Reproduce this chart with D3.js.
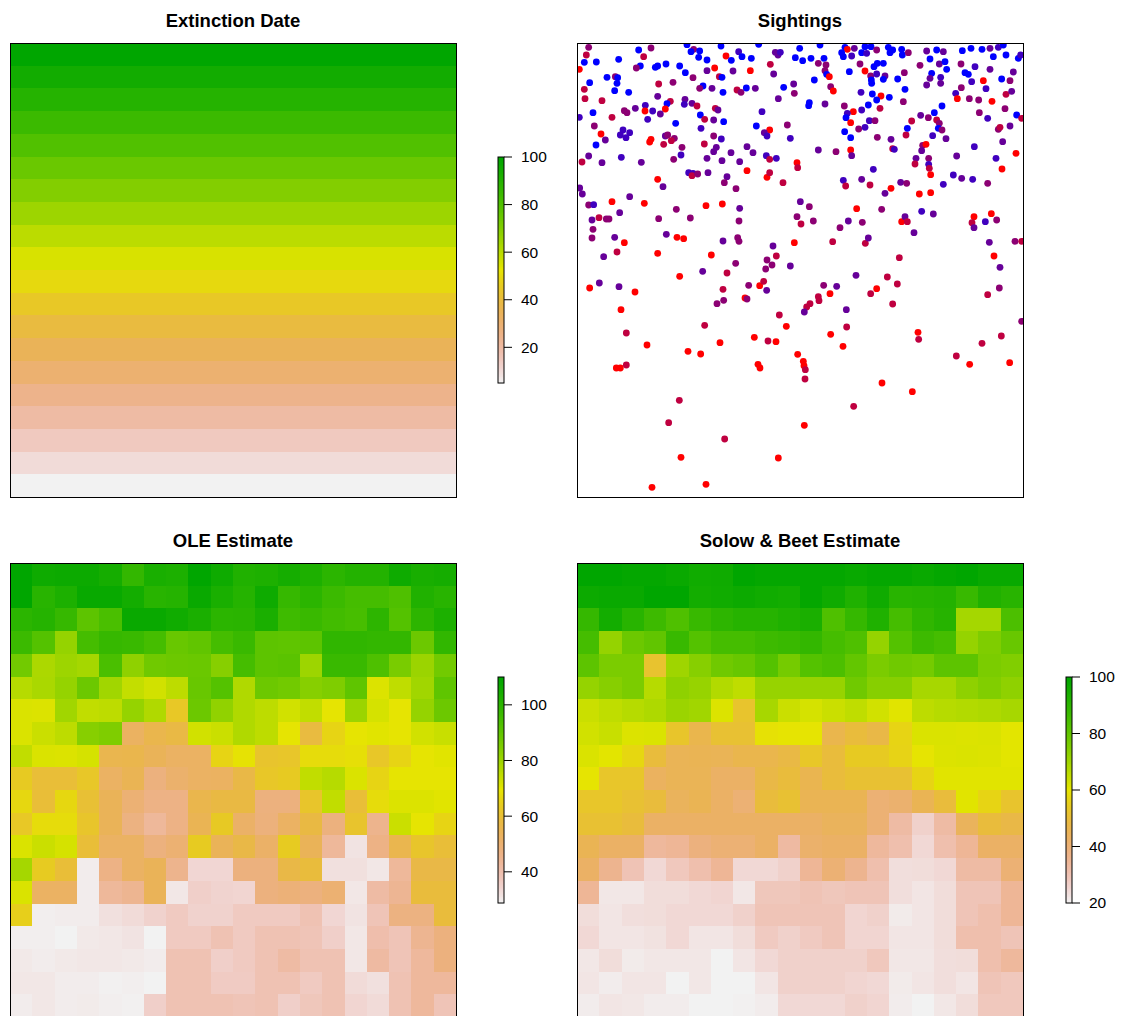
<!DOCTYPE html>
<html>
<head>
<meta charset="utf-8">
<script src="https://cdn.jsdelivr.net/npm/d3@7"></script>
<style>
body { margin: 0; background: #fff; }
text { font-family: "Liberation Sans", Arial, Helvetica, sans-serif; fill: #000; }
</style>
</head>
<body>
<script>
const titles = ['Extinction Date', 'Sightings', 'OLE Estimate', 'Solow & Beet Estimate'];

// extinction date per row, top row first
const extinctionDate = [100, 95, 90, 85, 80, 75, 70, 65, 60, 55, 50, 45, 40, 35, 30, 25, 20, 15, 10, 5];
const extTicks = [20, 40, 60, 80, 100];

const ole = [
  [110,106.5,107,107,105,98.6,104,103.5,110,106.5,102.5,103,105,103,100.4,102,102,106.5,104.5,105],
  [110,100.9,103.5,107.8,107.8,105.5,100.9,101.5,107.6,104,101.5,106.5,97.9,100.4,97.2,95.3,95.3,93.3,102.5,100.9],
  [100.4,101.7,97.9,90.8,94.1,107.6,107.6,106,103.7,100.4,100.5,103.8,96.4,97.4,95.9,94.8,100,92.3,100,103.5],
  [97.2,92.3,81.6,95.3,97.9,97.4,95.3,88.7,90,95.3,97.4,90.8,90.3,90.8,99.4,99.4,98.6,98.6,88.2,98.9],
  [87.2,78,80.1,79,94.1,82.6,87.7,88.2,88.5,83.6,95.3,90.8,91.3,80.1,97.4,97.4,93.7,86,80.6,87.2],
  [76.4,78.4,81.6,88.2,79.6,74.5,72.7,75.5,88.9,92.3,77.5,88.2,87.2,83.6,85,90.5,70.9,75,79.6,90.3],
  [71.3,70.9,79.6,74.9,75.5,81.6,77.5,63,88.2,82.2,77.3,75.5,72.7,74.9,69.4,80.6,72,69.4,81.6,88.2],
  [71.3,73.6,75.5,83.8,85,53,56.4,57.5,72.7,73.6,77.5,75.5,69.4,58.5,66.2,69.4,70.3,69.4,72.7,74],
  [74.9,71.3,71,72,56,56.4,54.4,52.4,52.4,66.2,69,61.7,62.5,67.8,67.8,68.5,62.8,66.2,69.4,70.5],
  [63.7,59.8,60,62.7,52.4,55.2,48,51,52.4,53,57.2,62.7,63.7,74.9,76.4,71.3,66.2,69.4,69.4,69.4],
  [67,59.8,67,60.5,54.4,49.5,46.7,46.7,56.4,57.8,57.8,48,48,62,74.9,59.8,67.8,70.9,70.9,70.5],
  [63,67.8,67.8,62,54.4,47.5,43.4,46.7,55.2,63.5,52,48.5,52.4,57.8,48,61.7,45.5,73.6,69.4,66.2],
  [71.3,73.6,71.8,59.8,52.4,52.4,48,50,64,54.4,57.2,52,64,54.4,43.4,31.5,46.7,56,62,59.8],
  [79,64,59.8,30,46.7,52.4,54.4,45.5,34,34,48,48,57.2,59.3,32,32.3,30.8,43.4,57.2,57.2],
  [71.3,52.4,52.4,30,43.4,45,54.4,30.8,35.5,34.8,34.3,48,49,48,50,31,41.8,44.5,59.3,59.3],
  [65,29.5,30,30,32,33,35,37,35,35,37,37,37,39.3,34,31.5,38.5,47.5,47.5,59.3],
  [29.5,29.5,29,30.5,31,31.5,29,37,37,39.3,37,39.3,39.3,38.5,35.5,31,40.5,38.5,45,48],
  [30.5,30,30.5,31,31,30.5,29.8,39.3,39.3,35.5,37,39,41.8,39,39,31,42,38.5,43,48],
  [30.8,30.8,30,30,29.2,29.5,28.8,39.3,39.3,36.5,36.5,39.3,39,37,39.3,33,32.3,39,43,43],
  [30,30.8,29.8,30.3,29.5,29.2,35.5,39,39,39,38.5,39,35.5,38,39,34.5,33,39,43,38.5]
];
const oleTicks = [40, 60, 80, 100];

const solowBeet = [
  [100,100,99,99,97.6,96,96.5,100,99,99,99,99,98,99,99,97.6,99,100,98,98],
  [97,97.6,97.6,100,100,95.5,96,97,96,95.5,99,96.5,93,96.5,91,91.5,92,88,92.5,91],
  [88.5,95.5,91,87,83.5,88,90,91.5,91.5,93,94,83.5,88.5,93,85.5,89.5,91.5,69.5,69.5,84.3],
  [85.5,72,78.5,80.5,88,82.5,85.5,85.5,87,87.5,89,85.5,83.5,72,82.5,87,85.5,72,75.5,79],
  [81,76,76,52,70.5,74,78,79,82.5,77,82.5,84,80,76,78,77,81,81,76,75],
  [72,74,76,67,73,71.5,67.5,65.5,71.5,71.5,71.5,71.5,78,74,74,69,69,73,75,73],
  [64,65.5,67,68,71,70,61.5,52.4,69,64,62.5,64,65.5,63,61,66,67,67.5,68,69],
  [63,64.5,61.5,61.8,52.8,47,51.5,51.5,59.5,60,60,47,50,48,56.8,62,61.8,61.5,62,60.5],
  [61.8,60.5,57.5,50,45.5,46,45.5,47,47,48.5,53.5,50,54.4,54.4,56.5,60,61.5,61.8,61.5,60.5],
  [60,53,53,44,45.5,45.5,43,43.2,48,50,46.5,50,51.5,51.5,51.5,56.8,61,61,61,61],
  [53,53,51.5,50,44.5,46,43.2,40.4,50,51.5,46,46,46,40.4,41.5,46,50,61,56.8,52.4],
  [51.5,51.5,50,43.2,43.2,43.2,43.2,43.2,43.2,43.2,43.2,44.5,44.5,40.4,32.8,26.5,32.8,44.5,50,48],
  [46,43.2,43.2,34,34.8,39,40.4,40.4,43.2,33,42,43.2,43.2,34,31,25,31,35,43.2,43.2],
  [43,36,30,25,28.5,31,35,25,25,26.5,35,40.4,36,31,23.5,24,25,32.8,32.8,40.4],
  [35,22,22,24,24,25,25.5,22,29,29,30,29,29.5,29.5,23.5,22.5,24,29.5,29.5,35],
  [24,22.5,23.5,24,25,25,25,26.5,29.5,29.5,29.5,29.5,25.5,26.5,21.5,22.3,24,29.5,31,35],
  [25,22.5,22.5,23,25,22.5,22.3,24,28,26.5,28,29.5,25.5,25.5,22.5,22.3,24,31,31,29.5],
  [22,24,21.5,22,22,22,20.3,22.3,25,26.5,26.5,26.5,26.5,28.5,22,22,23.5,24,31,34],
  [22.3,21,22.3,22.3,20.3,22,20.3,20.3,22.5,26.5,26.5,26.5,25.5,25,21.5,22.3,23.5,22.5,29.5,28.5],
  [21,22.3,22,21,21,20.3,20,20.5,21,25,25,25,26.5,25.5,21,20,22,24,28.5,28.5]
];
const sbTicks = [20, 40, 60, 80, 100];

// sightings: [east, north, time] on a 1338 x 1362 extent, time 0 = red .. 1 = blue
const sightings = [
  [35,1349,.45],[28,1326,.25],[22,1304,1],[58,1305,1],[125,1313,1],[185,1341,1],[200,1321,.25],[222,1347,.45],[190,1293,1],[178,1287,.45],
  [235,1289,1],[242,1293,1],[267,1299,1],[308,1293,1],[330,1357,1],[350,1343,.45],[342,1336,1],[368,1338,1],[365,1319,1],[390,1311,1],
  [432,1353,1],[447,1323,0],[463,1310,1],[485,1336,.75],[495,1321,1],[523,1316,1],[545,1358,1],[580,1298,.25],[595,1334,.6],[603,1326,.6],
  [610,1334,.75],[655,1318,1],[668,1346,1],[7,1283,0],[413,1287,0],[468,1278,.6],[520,1279,0],[590,1269,.6],[325,1273,1],[390,1279,.6],
  [348,1258,.45],[427,1261,.25],[435,1259,1],[90,1259,1],[115,1261,.45],[122,1258,1],[120,1241,1],[38,1243,1],[245,1239,.25],[288,1244,.45],
  [378,1233,1],[368,1226,.45],[405,1226,.6],[438,1214,1],[480,1221,.25],[492,1214,.45],[508,1227,1],[535,1226,.6],[620,1229,1],[650,1239,.6],
  [652,1211,.45],[22,1223,.25],[113,1219,1],[155,1214,1],[24,1195,.25],[75,1189,.25],[242,1202,.6],[324,1193,.6],[280,1187,.25],[270,1180,1],
  [322,1178,.75],[345,1181,.6],[360,1173,.25],[205,1175,.75],[265,1164,0],[204,1158,0],[227,1158,.75],[250,1149,.6],[212,1133,.75],[142,1159,.45],
  [150,1153,.45],[175,1166,.6],[105,1139,.25],[48,1153,1],[7,1139,.75],[415,1166,.25],[423,1161,.6],[370,1146,1],[383,1133,.25],[410,1131,.6],
  [440,1126,1],[555,1156,.75],[604,1195,.6],[296,1121,1],[372,1106,.75],[538,1113,1],[578,1101,0],[562,1093,.6],[570,1083,.75],[631,1116,.45],
  [640,1076,.75],[52,1113,.45],[72,1089,0],[85,1071,.6],[138,1101,.75],[130,1086,.75],[147,1078,.75],[158,1093,.75],[222,1073,0],[218,1065,0],
  [260,1058,.25],[265,1083,.6],[272,1086,.45],[292,1076,.45],[283,1069,.25],[315,1049,.45],[312,1026,.75],[290,1013,.45],[410,1083,.45],[433,1074,.75],
  [382,1059,.25],[418,1049,.6],[410,1036,.6],[390,1016,.6],[435,1009,.6],[462,1033,.6],[488,1006,.6],[510,1051,.6],[528,1033,.6],[568,1024,.75],
  [578,1013,.25],[598,1016,.75],[660,1003,0],[662,988,.25],[57,1056,1],[35,1023,.6],[15,1005,.25],[75,1003,.6],[133,1019,.75],[193,1004,.6],
  [335,973,.75],[348,971,.75],[345,964,.25],[362,969,.45],[393,973,.6],[450,961,.6],[442,943,.45],[477,925,.45],[510,979,0],[570,959,0],
  [578,973,.25],[618,943,.25],[242,953,0],[258,931,.6],[8,927,.6],[16,909,.6],[158,901,.6],[105,886,0],[202,881,0],[35,876,.45],
  [50,877,.75],[670,886,.6],[298,863,.45],[387,874,0],[436,879,0],[488,866,.6],[128,853,.6],[66,838,.25],[88,834,.45],[96,834,.45],
  [45,831,.6],[245,835,.45],[340,837,.45],[486,828,.45],[660,841,.45],[672,819,.25],[48,803,.45],[268,788,.6],[300,779,0],[320,775,0],
  [45,777,.45],[113,779,.6],[142,763,0],[438,768,.6],[482,778,.45],[486,767,.45],[652,763,0],[588,753,.6],[120,735,.25],[242,731,0],
  [403,726,0],[598,723,.25],[80,721,.6],[476,701,.45],[570,711,.45],[585,696,.45],[640,693,.6],
  [729,1356,1],[804,1349,1],[811,1343,0],[832,1346,.6],[854,1333,1],[864,1351,1],[882,1351,1],[899,1341,.45],[869,1331,.75],[799,1321,1],
  [824,1323,.75],[794,1333,1],[934,1349,1],[939,1333,1],[947,1341,1],[974,1343,1],[976,1326,1],[994,1333,.45],[1049,1338,.6],[1079,1341,1],
  [1099,1336,.6],[1156,1339,1],[1182,1346,1],[1215,1343,1],[1239,1346,.6],[1264,1349,.75],[1279,1356,1],[1287,1326,1],[1249,1321,1],[1324,1316,1],
  [1331,1326,.75],[677,1309,1],[702,1316,1],[724,1301,.45],[741,1316,1],[747,1296,.45],[849,1299,.45],[891,1291,1],[901,1301,1],[919,1301,1],
  [1029,1295,.45],[1059,1314,1],[1087,1299,.6],[1104,1306,1],[1109,1283,1],[1152,1299,.45],[1194,1291,.75],[1239,1283,.6],[1309,1275,.6],[744,1279,.45],
  [749,1268,1],[757,1261,0],[817,1276,1],[864,1278,0],[881,1263,.45],[883,1251,1],[884,1241,1],[899,1269,.75],[924,1263,.6],[919,1253,1],
  [982,1273,.45],[962,1254,1],[1064,1271,1],[1059,1256,.6],[1091,1259,.75],[1049,1236,.6],[1091,1241,.6],[1164,1273,1],[1174,1268,1],[1184,1246,.75],
  [1219,1249,0],[1274,1254,1],[1299,1249,.45],[712,1251,1],[761,1231,.45],[769,1218,0],[852,1214,.75],[886,1209,1],[912,1203,0],[899,1191,1],
  [937,1199,1],[984,1223,1],[979,1186,.45],[1136,1211,.75],[1153,1228,.45],[1141,1195,0],[1177,1195,.45],[1205,1191,.45],[1227,1225,.75],[1245,1187,0],
  [1287,1208,.25],[1304,1217,.6],[697,1183,1],[695,1174,1],[744,1179,.6],[802,1173,.45],[874,1176,1],[854,1161,.75],[829,1156,0],[811,1151,.75],
  [807,1138,1],[909,1166,.25],[1095,1173,1],[1207,1153,.45],[1232,1136,.75],[1284,1165,.45],[1319,1146,1],[1334,1136,.25],[821,1123,0],[877,1129,.75],
  [894,1129,.45],[845,1104,.45],[864,1109,.75],[803,1096,1],[821,1078,1],[901,1079,.45],[987,1086,.25],[991,1106,1],[1004,1128,.25],[1031,1145,.6],
  [1054,1138,.45],[1072,1153,1],[1079,1131,.25],[1087,1121,.45],[1084,1106,1],[1095,1101,.45],[1067,1084,.75],[1107,1075,.6],[1264,1103,.45],[1269,1109,.25],
  [1299,1113,.6],[1277,1066,.6],[1192,1051,.75],[1317,1031,0],[1257,1016,.75],[1275,984,0],[724,1041,.6],[777,1036,.45],[821,1041,0],[824,1024,.6],
  [942,1073,.6],[947,1045,.25],[952,1043,.75],[1037,1055,.45],[1047,1058,0],[1034,1039,.6],[1017,1016,.6],[1014,999,.25],[1055,1016,.45],[1055,998,.75],
  [1057,986,.25],[1061,967,0],[1139,1023,.6],[889,983,.75],[799,950,.75],[806,933,.25],[854,953,.6],[879,936,.25],[942,926,0],[971,944,.6],
  [989,941,.45],[924,911,.6],[1027,909,0],[1061,913,0],[1099,938,.75],[1129,966,.75],[1154,956,.6],[1187,953,.75],[1232,941,.45],[697,871,.45],
  [709,828,.45],[839,865,0],[914,863,.45],[814,828,.6],[856,824,.45],[789,808,.45],[767,766,.25],[865,761,.25],[874,777,.6],[974,826,0],
  [984,841,.6],[991,826,.25],[1011,793,.6],[1034,857,.75],[1069,849,.6],[1191,841,0],[1185,823,.25],[1191,808,.6],[1225,826,.75],[1243,850,0],
  [1259,831,.45],[1237,764,.6],[1314,767,.45],[1334,767,.25],[967,718,.25],[1251,723,0],[1269,689,.6],
  [377,677,.6],[450,672,.25],[308,662,0],[566,684,.45],[38,627,0],[67,642,.6],[126,631,.6],[174,615,0],[438,623,.25],[420,580,.45],
  [440,590,.45],[515,635,.45],[548,634,0],[560,647,.25],[569,620,.6],[504,597,0],[510,594,.45],[132,562,0],[607,546,.25],[148,492,.25],
  [383,515,.25],[628,512,0],[210,456,0],[333,437,0],[371,429,0],[429,463,0],[532,479,0],[573,468,.25],[597,466,0],[662,428,0],
  [118,387,0],[130,387,0],[148,396,.25],[543,398,0],[549,387,0],[307,290,.25],[275,223,.25],[443,174,.25],[312,119,0],[604,117,0],
  [225,29,0],[387,38,0],
  [837,665,.6],[931,660,.25],[961,639,.25],[740,635,.45],[779,632,.6],[724,601,.25],[726,589,.25],[759,610,0],[881,610,.25],[899,625,0],
  [947,579,.25],[699,580,.25],[689,570,.25],[682,555,.6],[808,562,.6],[809,510,.25],[761,488,0],[798,452,0],[1232,607,.25],[1267,627,.45],
  [1334,527,.45],[1273,483,.25],[1215,461,.25],[1138,423,.25],[1178,398,0],[1298,403,0],[1023,494,0],[1025,473,.25],[679,407,0],[681,394,0],
  [685,382,.25],[684,354,.25],[915,342,0],[1006,316,0],[830,272,.25],[682,215,0]
];

const width = 1121;
const height = 1016;
const pw = 446, ph = 454;
const panels = [[10, 43], [577, 43], [10, 563], [577, 563]];

function hsv(h, s, v) {
  const i = Math.floor(h * 6 + 1e-9), f = h * 6 - i;
  const p = v * (1 - s), q = v * (1 - f * s), t = v * (1 - (1 - f) * s);
  const [r, g, b] = [[v, t, p], [q, v, p], [p, v, t], [p, q, v], [t, p, v], [v, p, q]][i % 6];
  return d3.rgb(r * 255, g * 255, b * 255).formatHex();
}

// R's terrain.colors(n)
function terrainColors(n) {
  const k = Math.floor(n / 2);
  const seq = (a, b, len) => d3.range(len).map(i => a + (b - a) * i / (len - 1));
  const cols = [];
  const h1 = seq(4/12, 2/12, k), v1 = seq(0.65, 0.9, k);
  for (let i = 0; i < k; i++) cols.push(hsv(h1[i], 1, v1[i]));
  const m = n - k + 1;
  const h2 = seq(2/12, 0, m), s2 = seq(1, 0, m), v2 = seq(0.9, 0.95, m);
  for (let i = 1; i < m; i++) cols.push(hsv(h2[i], s2[i], v2[i]));
  return cols;
}
const palette = terrainColors(255).reverse();
const colorFor = domain => v => palette[Math.max(0, Math.min(254, Math.floor((v - domain[0]) / (domain[1] - domain[0]) * 255)))];

const svg = d3
  .create('svg')
  .attr('width', width)
  .attr('height', height)
  .attr('viewBox', [0, 0, width, height]);

svg.append('rect').attr('width', width).attr('height', height).attr('fill', '#fff');

svg.append('defs').selectAll('clipPath')
  .data(panels)
  .join('clipPath')
  .attr('id', (d, i) => 'clip' + i)
  .append('rect')
  .attr('x', d => d[0]).attr('y', d => d[1])
  .attr('width', pw).attr('height', ph);

function drawGrid(i, grid, domain) {
  const [px, py] = panels[i];
  const nr = grid.length, nc = grid[0].length;
  const x = d3.scaleLinear().domain([0, nc]).range([px, px + pw]);
  const y = d3.scaleLinear().domain([0, nr]).range([py, py + ph]);
  const col = colorFor(domain);
  const cells = [];
  grid.forEach((row, r) => row.forEach((v, c) => cells.push({ r, c, v })));
  svg.append('g')
    .attr('clip-path', `url(#clip${i})`)
    .attr('shape-rendering', 'crispEdges')
    .selectAll('rect')
    .data(cells)
    .join('rect')
    .attr('x', d => x(d.c))
    .attr('y', d => y(d.r))
    .attr('width', d => x(d.c + 1) - x(d.c) + 0.5)
    .attr('height', d => y(d.r + 1) - y(d.r) + 0.5)
    .attr('fill', d => col(d.v));
}

function drawLegend(lx, ly, domain, ticks) {
  const bw = 6, bh = 226;
  const y = d3.scaleLinear().domain(domain).range([ly + bh, ly]);
  const g = svg.append('g');
  g.append('g')
    .attr('shape-rendering', 'crispEdges')
    .selectAll('rect')
    .data(palette)
    .join('rect')
    .attr('x', lx)
    .attr('y', (d, i) => ly + bh - (i + 1) * bh / 255)
    .attr('width', bw)
    .attr('height', bh / 255 + 0.6)
    .attr('fill', d => d);
  g.append('rect')
    .attr('x', lx).attr('y', ly).attr('width', bw).attr('height', bh)
    .attr('fill', 'none').attr('stroke', '#000').attr('stroke-width', 1);
  const t = g.selectAll('g.tick').data(ticks).join('g').attr('class', 'tick')
    .attr('transform', d => `translate(0,${y(d)})`);
  t.append('line')
    .attr('x1', lx + bw).attr('x2', lx + bw + 8)
    .attr('stroke', '#000');
  t.append('text')
    .attr('x', lx + bw + 17)
    .attr('dy', '0.35em')
    .attr('font-size', 15.5)
    .text(d => d);
}

// extinction date bands
const extDomain = d3.extent(extinctionDate);
const extCol = colorFor(extDomain);
const bandY = d3.scaleLinear().domain([0, extinctionDate.length]).range([panels[0][1], panels[0][1] + ph]);
svg.append('g')
  .attr('shape-rendering', 'crispEdges')
  .selectAll('rect')
  .data(extinctionDate)
  .join('rect')
  .attr('x', panels[0][0])
  .attr('y', (d, i) => bandY(i))
  .attr('width', pw)
  .attr('height', (d, i) => bandY(i + 1) - bandY(i) + 0.5)
  .attr('fill', d => extCol(d));
drawLegend(498, 157, extDomain, extTicks);

// sightings
const sx = d3.scaleLinear().domain([0, 1338]).range([panels[1][0], panels[1][0] + pw]);
const sy = d3.scaleLinear().domain([0, 1362]).range([panels[1][1] + ph, panels[1][1]]);
const tone = d3.scaleLinear().domain([0, 1]).range(['red', 'blue']);
svg.append('g')
  .attr('clip-path', 'url(#clip1)')
  .selectAll('circle')
  .data(sightings)
  .join('circle')
  .attr('cx', d => sx(d[0]))
  .attr('cy', d => sy(d[1]))
  .attr('r', 3.4)
  .attr('fill', d => tone(d[2]));

// estimates
const oleDomain = d3.extent(ole.flat());
drawGrid(2, ole, oleDomain);
drawLegend(498, 677, oleDomain, oleTicks);

const sbDomain = d3.extent(solowBeet.flat());
drawGrid(3, solowBeet, sbDomain);
drawLegend(1066, 677, sbDomain, sbTicks);

// frames and titles
svg.append('g')
  .selectAll('rect')
  .data(panels)
  .join('rect')
  .attr('x', d => d[0] + 0.5)
  .attr('y', d => d[1] + 0.5)
  .attr('width', pw)
  .attr('height', ph)
  .attr('fill', 'none')
  .attr('stroke', '#000')
  .attr('stroke-width', 1);

svg.append('g')
  .selectAll('text')
  .data(titles)
  .join('text')
  .attr('x', (d, i) => panels[i][0] + pw / 2)
  .attr('y', (d, i) => panels[i][1] - 16)
  .attr('text-anchor', 'middle')
  .attr('font-weight', 'bold')
  .attr('font-size', 18.5)
  .text(d => d);

document.body.appendChild(svg.node());
</script>
</body>
</html>
